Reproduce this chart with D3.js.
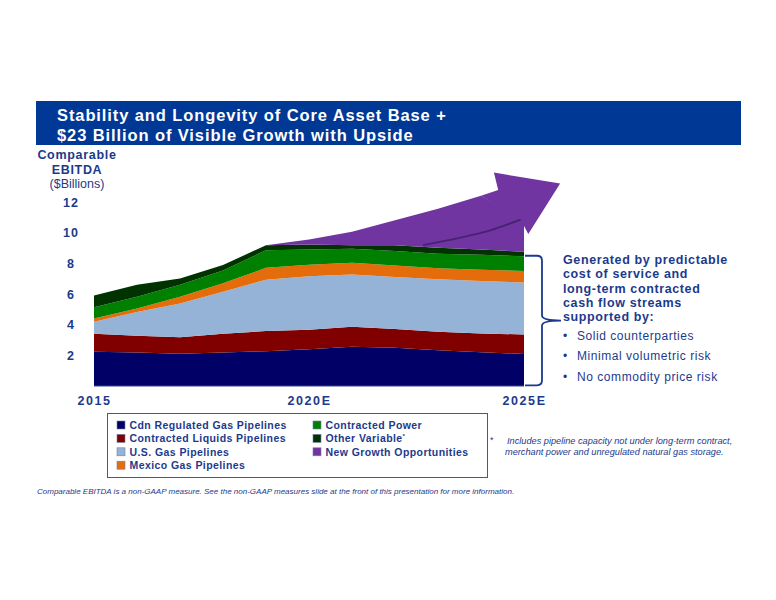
<!DOCTYPE html>
<html>
<head>
<meta charset="utf-8">
<script src="https://cdn.jsdelivr.net/npm/d3@7"></script>
<style>
  body { margin: 0; background: #fff; }
  svg { display: block; font-family: "Liberation Sans", Arial, sans-serif; }
</style>
</head>
<body>
<div id="chart"></div>
<script>
// values ($ billions, layer thickness per year)
var years      = [2015, 2016, 2017, 2018, 2019, 2020, 2021, 2022, 2023, 2024, 2025];
var cdnGas     = [2.25, 2.20, 2.12, 2.20, 2.29, 2.42, 2.57, 2.51, 2.35, 2.22, 2.11];
var liquids    = [1.17, 1.10, 1.08, 1.22, 1.31, 1.27, 1.31, 1.22, 1.20, 1.22, 1.27];
var usGas      = [0.78, 1.55, 2.20, 2.74, 3.35, 3.49, 3.41, 3.40, 3.42, 3.42, 3.38];
var mexicoGas  = [0.22, 0.22, 0.43, 0.56, 0.77, 0.74, 0.77, 0.74, 0.73, 0.74, 0.76];
var power      = [0.73, 0.76, 0.79, 0.83, 1.15, 1.00, 0.90, 0.95, 0.94, 0.97, 0.95];
var otherVar   = [0.77, 0.79, 0.40, 0.35, 0.33, 0.32, 0.24, 0.38, 0.39, 0.35, 0.30];
var newGrowth  = [0, 0, 0, 0, 0, 0.33, 0.88, 1.62, 2.55, 3.50, 2.10];

// arrow head on the growth band (year, value)
var arrowYears = [2024, 2024.4, 2024.3, 2025.84, 2025.1, 2024.92];
var arrowVals  = [12.42, 12.8, 13.93, 13.22, 9.92, 10.87];
var shaftYears = [2022.65, 2023.5, 2024.2, 2024.92];
var shaftVals  = [9.2, 9.68, 10.15, 10.87];

var yTicks  = [2, 4, 6, 8, 10, 12];
var xTicks  = [2015, 2020, 2025];
var xLabels = ["2015", "2020E", "2025E"];

var seriesKeys  = ["cdn", "liq", "us", "mex", "pow", "oth", "grow"];
var seriesNames = ["Cdn Regulated Gas Pipelines", "Contracted Liquids Pipelines", "U.S. Gas Pipelines",
                   "Mexico Gas Pipelines", "Contracted Power", "Other Variable", "New Growth Opportunities"];
var colors = ["#000066", "#800000", "#95b3d7", "#e46c0a", "#008000", "#003300", "#7035a0"];

var textBlue = "#1c3a8c";

var width = 776, height = 600;

var svg = d3.select("#chart").append("svg")
  .attr("width", width)
  .attr("height", height);

// title banner
svg.append("rect")
  .attr("x", 36).attr("y", 101)
  .attr("width", 705).attr("height", 44)
  .attr("fill", "#003896");

var titleLines = ["Stability and Longevity of Core Asset Base +", "$23 Billion of Visible Growth with Upside"];
svg.selectAll(".title")
  .data(titleLines)
  .enter().append("text")
  .attr("class", "title")
  .attr("x", 57)
  .attr("y", function(d, i) { return 121 + i * 20; })
  .attr("fill", "#fff")
  .style("font-size", "16.5px")
  .style("font-weight", "bold")
  .style("letter-spacing", "0.9px")
  .text(function(d) { return d; });

// y axis title
var yTitle = [["Comparable", "bold"], ["EBITDA", "bold"], ["($Billions)", "normal"]];
svg.selectAll(".ytitle")
  .data(yTitle)
  .enter().append("text")
  .attr("x", 77)
  .attr("y", function(d, i) { return 159 + i * 14.5; })
  .attr("text-anchor", "middle")
  .attr("fill", textBlue)
  .style("font-size", "12.5px")
  .style("font-weight", function(d) { return d[1]; })
  .style("letter-spacing", function(d) { return d[1] == "bold" ? "0.7px" : "0px"; })
  .text(function(d) { return d[0]; });

var x = d3.scaleLinear().domain([2015, 2025]).range([94, 524]);
var y = d3.scaleLinear().domain([0, 12]).range([386.3, 202.2]);

var table = years.map(function(yr, i) {
  return { year: yr, cdn: cdnGas[i], liq: liquids[i], us: usGas[i], mex: mexicoGas[i],
           pow: power[i], oth: otherVar[i], grow: newGrowth[i] };
});

var stack = d3.stack().keys(seriesKeys);
var layers = stack(table);

var area = d3.area()
  .x(function(d) { return x(d.data.year); })
  .y0(function(d) { return y(d[0]); })
  .y1(function(d) { return y(d[1]); });

// growth arrow head (drawn under the band so edges merge)
var arrowPts = arrowYears.map(function(yr, i) { return [x(yr), y(arrowVals[i])]; });
svg.append("path")
  .attr("d", d3.line()(arrowPts) + "Z")
  .attr("fill", colors[6]);

svg.selectAll(".layer")
  .data(layers)
  .enter().append("path")
  .attr("class", "layer")
  .attr("d", area)
  .attr("fill", function(d, i) { return colors[i]; });

// darker edge of the arrow shaft
svg.append("path")
  .attr("d", d3.line().curve(d3.curveCatmullRom)(shaftYears.map(function(yr, i) { return [x(yr), y(shaftVals[i])]; })))
  .attr("fill", "none")
  .attr("stroke", "#452372")
  .attr("stroke-width", 1.8);

// baseline
svg.append("line")
  .attr("x1", x(2015)).attr("x2", x(2025))
  .attr("y1", y(0)).attr("y2", y(0))
  .attr("stroke", "#8f9cc8").attr("stroke-width", 1);

// y axis labels
var yAxis = svg.append("g")
  .attr("transform", "translate(71,0)")
  .call(d3.axisLeft(y).tickValues(yTicks).tickSize(0).tickPadding(0));
yAxis.select(".domain").remove();
yAxis.selectAll("text")
  .attr("x", 0)
  .attr("text-anchor", "middle")
  .attr("fill", textBlue)
  .style("font-family", "Liberation Sans, Arial, sans-serif")
  .style("font-size", "12.5px")
  .style("font-weight", "bold")
  .style("letter-spacing", "1px");

// x axis labels
var xAxis = svg.append("g")
  .attr("transform", "translate(0," + y(0) + ")")
  .call(d3.axisBottom(x).tickValues(xTicks).tickSize(0).tickPadding(10)
    .tickFormat(function(d, i) { return xLabels[i]; }));
xAxis.select(".domain").remove();
xAxis.selectAll("text")
  .attr("fill", textBlue)
  .style("font-family", "Liberation Sans, Arial, sans-serif")
  .style("font-size", "12.5px")
  .style("font-weight", "bold")
  .style("letter-spacing", "1.6px");

// brace next to the contracted stack
var lastIdx = years.length - 1;
var braceTop = y(layers[5][lastIdx][1]) + 4;
var braceBot = y(0) - 1;
var braceMid = (braceTop + braceBot) / 2;
var bx0 = x(2025) + 1, bx1 = bx0 + 17, tip = bx0 + 36;
var bracePath = "M" + bx0 + "," + braceTop +
  " H" + (bx1 - 5) + " Q" + bx1 + "," + braceTop + " " + bx1 + "," + (braceTop + 5) +
  " V" + (braceMid - 5) + " Q" + bx1 + "," + braceMid + " " + tip + "," + braceMid +
  " Q" + bx1 + "," + braceMid + " " + bx1 + "," + (braceMid + 5) +
  " V" + (braceBot - 5) + " Q" + bx1 + "," + braceBot + " " + (bx1 - 5) + "," + braceBot +
  " H" + bx0;
svg.append("path")
  .attr("d", bracePath)
  .attr("fill", "none")
  .attr("stroke", textBlue)
  .attr("stroke-width", 1.8);

// side text
var sideLines = ["Generated by predictable", "cost of service and", "long-term contracted",
                 "cash flow streams", "supported by:"];
svg.selectAll(".side")
  .data(sideLines)
  .enter().append("text")
  .attr("x", 563)
  .attr("y", function(d, i) { return 264 + i * 14.3; })
  .attr("fill", textBlue)
  .style("font-size", "12.5px")
  .style("font-weight", "bold")
  .style("letter-spacing", "0.62px")
  .text(function(d) { return d; });

var bullets = ["Solid counterparties", "Minimal volumetric risk", "No commodity price risk"];
var bul = svg.selectAll(".bullet")
  .data(bullets)
  .enter().append("g")
  .attr("transform", function(d, i) { return "translate(0," + (339.5 + i * 20.5) + ")"; });
bul.append("text")
  .attr("x", 563)
  .attr("fill", textBlue)
  .style("font-size", "12px")
  .text("\u2022");
bul.append("text")
  .attr("x", 577)
  .attr("fill", textBlue)
  .style("font-size", "12px")
  .style("letter-spacing", "0.55px")
  .text(function(d) { return d; });

// legend
svg.append("rect")
  .attr("x", 107.5).attr("y", 413.5)
  .attr("width", 380).attr("height", 64)
  .attr("fill", "none")
  .attr("stroke", "#3a5aa8")
  .attr("stroke-width", 1);

var legend = svg.selectAll(".legend")
  .data(seriesNames)
  .enter().append("g")
  .attr("class", "legend")
  .attr("transform", function(d, i) {
    var col = i < 4 ? 0 : 1;
    var row = i < 4 ? i : i - 4;
    return "translate(" + (col == 0 ? 117 : 313) + "," + (425 + row * 13.4) + ")";
  });
legend.append("rect")
  .attr("x", 0).attr("y", -4)
  .attr("width", 8).attr("height", 8)
  .attr("fill", function(d, i) { return colors[i]; })
  .attr("stroke", "#6f7fb0")
  .attr("stroke-width", 0.6);
var lt = legend.append("text")
  .attr("x", 12.5)
  .attr("y", 4)
  .attr("fill", textBlue)
  .style("font-size", "10.5px")
  .style("font-weight", "bold")
  .style("letter-spacing", "0.42px")
  .text(function(d) { return d; });
lt.filter(function(d) { return d == "Other Variable"; })
  .append("tspan")
  .attr("dy", -4)
  .style("font-size", "6px")
  .text("*");

// footnotes
svg.append("text")
  .attr("x", 490).attr("y", 443)
  .attr("fill", textBlue)
  .style("font-size", "9px")
  .text("*");
var foot = ["Includes pipeline capacity not under long-term contract,",
            "merchant power and unregulated natural gas storage."];
svg.selectAll(".foot")
  .data(foot)
  .enter().append("text")
  .attr("x", function(d, i) { return i == 0 ? 507 : 505; })
  .attr("y", function(d, i) { return 444 + i * 11; })
  .attr("fill", textBlue)
  .style("font-size", "9.2px")
  .style("font-style", "italic")
  .text(function(d) { return d; });

svg.append("text")
  .attr("x", 37).attr("y", 494)
  .attr("fill", textBlue)
  .style("font-size", "8px")
  .style("font-style", "italic")
  .text("Comparable EBITDA is a non-GAAP measure.  See the non-GAAP measures slide at the front of this presentation for more information.");
</script>
</body>
</html>
